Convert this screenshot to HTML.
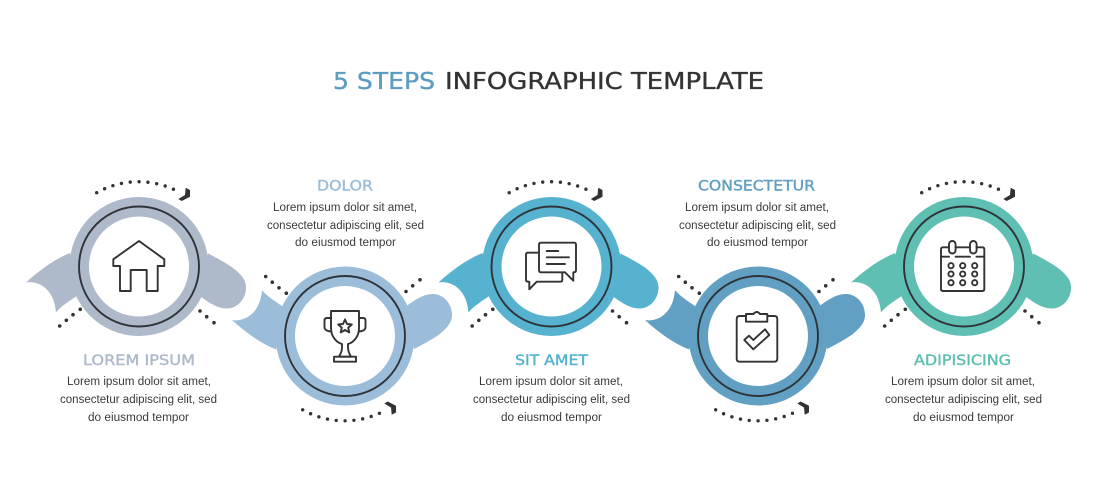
<!DOCTYPE html>
<html>
<head>
<meta charset="utf-8">
<style>
html,body{margin:0;padding:0;background:#fff;width:1094px;height:500px;overflow:hidden}
svg{display:block}
.t{font-family:"DejaVu Sans","Liberation Sans",sans-serif;font-size:23px;stroke-width:.35}
.h{font-family:"DejaVu Sans","Liberation Sans",sans-serif;font-size:14px;stroke-width:.4}
.b{font-family:"Liberation Sans",sans-serif;font-size:11.5px;fill:#3a3a3a}
.i{fill:none;stroke:#333;stroke-width:1.9;stroke-linejoin:round;stroke-linecap:round}
</style>
</head>
<body>
<svg width="1094" height="500" viewBox="0 0 1094 500" xmlns="http://www.w3.org/2000/svg">
<defs>
  <g id="shape">
    <path d="M-69,-13.5 C-85,-7 -100,4 -113,16 C-103,14 -85,20 -83,46 C-78,40 -72,36 -60,28 Z"/>
    <path d="M69,-13 C77,-9 90,-2 96,3 C103,9 107,14 107,21 C107,33 98,42 88,42 C78,42 70,36 60,29 Z"/>
    <circle r="69.5"/>
  </g>
  <g id="deco">
    <path d="M-42.3,-73.8 A85,85 0 0 1 35.5,-76.8" fill="none" stroke="#333" stroke-width="3.4" stroke-linecap="round" stroke-dasharray="0 8.85"/>
    <path d="M46.7,-78.8 L51,-76.5 L51,-69.8 L42.7,-65.5 L39.3,-67.5 L46,-71.5 Z" fill="#333"/>
    <g fill="#333">
      <circle cx="-79.3" cy="59.5" r="1.8"/><circle cx="-72.7" cy="53.8" r="1.8"/><circle cx="-66" cy="48.2" r="1.8"/><circle cx="-58.7" cy="42.8" r="1.8"/>
      <circle cx="61" cy="44.5" r="1.8"/><circle cx="67.7" cy="50.2" r="1.8"/><circle cx="75" cy="56.2" r="1.8"/>
    </g>
  </g>
  <g id="ring">
    <circle r="50" fill="#fff"/>
    <circle r="60" fill="none" stroke="#2f3338" stroke-width="1.9"/>
  </g>
</defs>

<rect width="1094" height="500" fill="#fff"/>

<!-- Title -->
<text class="t" x="333" y="89" fill="#5b9cbf" stroke="#5b9cbf" textLength="102" lengthAdjust="spacingAndGlyphs">5 STEPS</text>
<text class="t" x="445" y="89" fill="#333" stroke="#333" textLength="319" lengthAdjust="spacingAndGlyphs">INFOGRAPHIC TEMPLATE</text>

<!-- Step 1 -->
<g transform="translate(139,266.5)" fill="#aeb9ca"><use href="#shape"/><use href="#deco"/><use href="#ring"/></g>
<!-- Step 2 -->
<g transform="translate(345,336) scale(1,-1)" fill="#9bbdda"><use href="#shape"/><use href="#deco"/><use href="#ring"/></g>
<!-- Step 3 -->
<g transform="translate(551.5,266.5)" fill="#57b2cf"><use href="#shape"/><use href="#deco"/><use href="#ring"/></g>
<!-- Step 4 -->
<g transform="translate(758,336) scale(1,-1)" fill="#619fc3"><use href="#shape"/><use href="#deco"/><use href="#ring"/></g>
<!-- Step 5 -->
<g transform="translate(964,266.5)" fill="#5fbfb3"><use href="#shape"/><use href="#deco"/><use href="#ring"/></g>

<!-- House icon -->
<path class="i" d="M139,241 L113.3,259.3 V266 H120 V291 H130.7 V270 H146.7 V291 H157.7 V266 H164.3 V259.3 Z"/>

<!-- Trophy icon -->
<g class="i">
  <path d="M331,311 H359 V328 C359,338 352,343 348,344 C347.5,350 349,353 351,356.7 H339 C341,353 342.5,350 342,344 C338,343 331,338 331,328 Z"/>
  <path d="M331,318 H327 Q324.5,318 324.5,320.5 V327 Q324.5,331 331,331.5"/>
  <path d="M359,318 H363 Q365.5,318 365.5,320.5 V327 Q365.5,331 359,331.5"/>
  <rect x="334" y="356.7" width="22" height="5"/>
  <path d="M345,319.5 L347,324 L351.8,324.5 L348.2,327.7 L349.3,332.4 L345,330 L340.7,332.4 L341.8,327.7 L338.2,324.5 L343,324 Z"/>
</g>

<!-- Chat icon -->
<g class="i">
  <path d="M541,242.7 H574 Q576,242.7 576,244.7 V270.3 Q576,272.3 574,272.3 H573.3 V280.7 L565,272.3 H541 Q539,272.3 539,270.3 V244.7 Q539,242.7 541,242.7 Z"/>
  <path d="M539,252.7 H528 Q526,252.7 526,254.7 V279.7 Q526,281.7 528,281.7 H529.3 V289.3 L536.7,281.7 H560.3 Q562.3,281.7 562.3,279.7 V272.3"/>
  <path d="M546.7,251 H558.3 M546.7,257.3 H569 M546.7,264 H565"/>
</g>

<!-- Clipboard icon -->
<g class="i">
  <path d="M746,316 H739.7 Q736.7,316 736.7,319 V358.7 Q736.7,361.7 739.7,361.7 H774.3 Q777.3,361.7 777.3,358.7 V319 Q777.3,316 774.3,316 H767.3"/>
  <path d="M746,321.7 H767.3 V314 H760 Q757,310 753.3,314 H746 Z"/>
  <path d="M744.3,340 L753.3,349.3 L769.3,335 L765,329.3 L753.3,340 L749,335.7 Z"/>
</g>

<!-- Calendar icon -->
<g class="i">
  <path d="M949,247.3 H943 Q941,247.3 941,249.3 V289 Q941,291 943,291 H982.3 Q984.3,291 984.3,289 V249.3 Q984.3,247.3 982.3,247.3 H976.5 M955.6,247.3 H970"/>
  <path d="M941,256.7 H949 M955.6,256.7 H970 M976.5,256.7 H984.3"/>
  <rect x="949" y="241" width="6.6" height="12.5" rx="3.3"/>
  <rect x="970" y="241" width="6.6" height="12.5" rx="3.3"/>
  <circle cx="951" cy="265.7" r="2.6"/><circle cx="962.7" cy="265.7" r="2.6"/><circle cx="974.7" cy="265.7" r="2.6"/>
  <circle cx="951" cy="274" r="2.6"/><circle cx="962.7" cy="274" r="2.6"/><circle cx="974.7" cy="274" r="2.6"/>
  <circle cx="951" cy="282.7" r="2.6"/><circle cx="962.7" cy="282.7" r="2.6"/><circle cx="974.7" cy="282.7" r="2.6"/>
</g>

<!-- Column 1 -->
<text class="h" x="83" y="365" fill="#aeb9ca" stroke="#aeb9ca" textLength="112" lengthAdjust="spacingAndGlyphs">LOREM IPSUM</text>
<text class="b" x="67" y="385" textLength="144" lengthAdjust="spacingAndGlyphs">Lorem ipsum dolor sit amet,</text>
<text class="b" x="60" y="403" textLength="157" lengthAdjust="spacingAndGlyphs">consectetur adipiscing elit, sed</text>
<text class="b" x="88" y="421" textLength="101" lengthAdjust="spacingAndGlyphs">do eiusmod tempor</text>

<!-- Column 2 -->
<text class="h" x="317" y="190.5" fill="#9bbdda" stroke="#9bbdda" textLength="56" lengthAdjust="spacingAndGlyphs">DOLOR</text>
<text class="b" x="273" y="211" textLength="144" lengthAdjust="spacingAndGlyphs">Lorem ipsum dolor sit amet,</text>
<text class="b" x="267" y="229" textLength="157" lengthAdjust="spacingAndGlyphs">consectetur adipiscing elit, sed</text>
<text class="b" x="295" y="246" textLength="101" lengthAdjust="spacingAndGlyphs">do eiusmod tempor</text>

<!-- Column 3 -->
<text class="h" x="515" y="365" fill="#57b2cf" stroke="#57b2cf" textLength="73" lengthAdjust="spacingAndGlyphs">SIT AMET</text>
<text class="b" x="479" y="385" textLength="144" lengthAdjust="spacingAndGlyphs">Lorem ipsum dolor sit amet,</text>
<text class="b" x="473" y="403" textLength="157" lengthAdjust="spacingAndGlyphs">consectetur adipiscing elit, sed</text>
<text class="b" x="501" y="421" textLength="101" lengthAdjust="spacingAndGlyphs">do eiusmod tempor</text>

<!-- Column 4 -->
<text class="h" x="698" y="190.5" fill="#619fc3" stroke="#619fc3" textLength="117" lengthAdjust="spacingAndGlyphs">CONSECTETUR</text>
<text class="b" x="685" y="211" textLength="144" lengthAdjust="spacingAndGlyphs">Lorem ipsum dolor sit amet,</text>
<text class="b" x="679" y="229" textLength="157" lengthAdjust="spacingAndGlyphs">consectetur adipiscing elit, sed</text>
<text class="b" x="707" y="246" textLength="101" lengthAdjust="spacingAndGlyphs">do eiusmod tempor</text>

<!-- Column 5 -->
<text class="h" x="914" y="365" fill="#5fbfb3" stroke="#5fbfb3" textLength="97" lengthAdjust="spacingAndGlyphs">ADIPISICING</text>
<text class="b" x="891" y="385" textLength="144" lengthAdjust="spacingAndGlyphs">Lorem ipsum dolor sit amet,</text>
<text class="b" x="885" y="403" textLength="157" lengthAdjust="spacingAndGlyphs">consectetur adipiscing elit, sed</text>
<text class="b" x="913" y="421" textLength="101" lengthAdjust="spacingAndGlyphs">do eiusmod tempor</text>
</svg>
</body>
</html>
